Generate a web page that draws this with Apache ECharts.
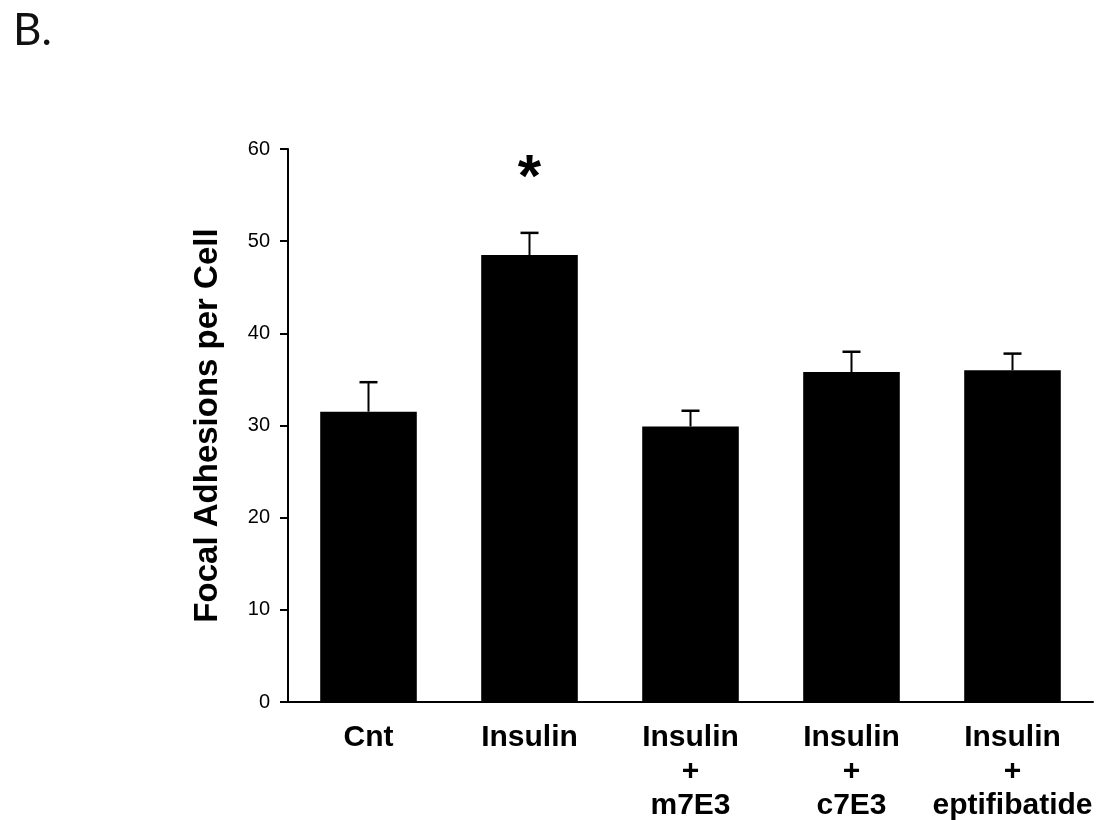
<!DOCTYPE html>
<html>
<head>
<meta charset="utf-8">
<script src="https://cdn.jsdelivr.net/npm/echarts@6/dist/echarts.min.js"></script>
<style>
html,body{margin:0;padding:0;background:#fff;}
#chart{width:1099px;height:820px;}
</style>
</head>
<body>
<div id="chart"></div>
<script>
var categories = ['Cnt', 'Insulin', 'Insulin\n+\nm7E3', 'Insulin\n+\nc7E3', 'Insulin\n+\neptifibatide'];
var means = [31.5, 48.5, 29.9, 35.8, 36.0];
var errors = [3.2, 2.4, 1.7, 2.2, 1.8];
var significance = ['', '*', '', '', ''];
var yTicks = [0, 10, 20, 30, 40, 50, 60];

var chart = echarts.init(document.getElementById('chart'));
var errData = means.map(function (m, i) { return [i, m, m + errors[i]]; });

chart.setOption({
  animation: false,
  backgroundColor: '#fff',
  graphic: [{
    type: 'text', left: 13, top: 9,
    style: { text: 'B.', font: '44px Lato', fill: '#111' }
  }],
  grid: { left: 288, right: 6, top: 149, bottom: 118, outerBoundsMode: 'none', containLabel: false },
  xAxis: {
    type: 'category',
    data: categories,
    axisLine: { lineStyle: { color: '#000', width: 2 } },
    axisTick: { show: false },
    axisLabel: {
      color: '#000', fontFamily: 'Liberation Sans', fontWeight: 'bold',
      fontSize: 30, lineHeight: 34, margin: 19, interval: 0
    }
  },
  yAxis: {
    type: 'value', min: yTicks[0], max: yTicks[yTicks.length - 1], interval: 10,
    name: 'Focal Adhesions per Cell',
    nameLocation: 'middle', nameGap: 64, nameRotate: 90,
    nameTextStyle: { color: '#000', fontFamily: 'Liberation Sans', fontWeight: 'bold', fontSize: 33 },
    axisLine: { show: true, lineStyle: { color: '#000', width: 2 } },
    axisTick: { show: true, length: 8, lineStyle: { color: '#000', width: 2 } },
    axisLabel: { color: '#000', fontFamily: 'Liberation Sans', fontSize: 20, margin: 18 },
    splitLine: { show: false }
  },
  series: [{
    type: 'bar',
    data: means,
    barWidth: '60%',
    itemStyle: { color: '#000' }
  }, {
    type: 'custom',
    data: errData,
    z: 10,
    renderItem: function (params, api) {
      var x = api.value(0);
      var top = api.coord([x, api.value(2)]);
      var base = api.coord([x, api.value(1)]);
      var hw = 9;
      var children = [
        { type: 'line', shape: { x1: top[0], y1: base[1], x2: top[0], y2: top[1] }, style: { stroke: '#000', lineWidth: 2 } },
        { type: 'line', shape: { x1: top[0] - hw, y1: top[1], x2: top[0] + hw, y2: top[1] }, style: { stroke: '#000', lineWidth: 2.5 } }
      ];
      var sig = significance[params.dataIndex];
      if (sig) {
        children.push({
          type: 'text',
          style: { text: sig, x: top[0], y: top[1] - 53, align: 'center', verticalAlign: 'middle',
                   font: 'bold 60px Liberation Sans', fill: '#000' }
        });
      }
      return { type: 'group', children: children };
    }
  }]
});
</script>
</body>
</html>
